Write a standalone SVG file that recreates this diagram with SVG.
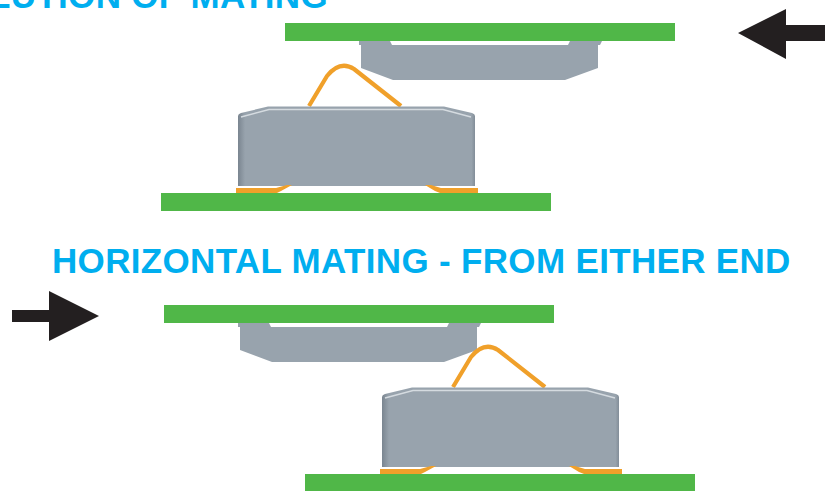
<svg xmlns="http://www.w3.org/2000/svg" width="828" height="491" viewBox="0 0 828 491">
<style>
.t{font-family:"Liberation Sans",Arial,sans-serif;font-weight:700;fill:#00aeef;font-size:35px;letter-spacing:.33px}
.g{fill:#50b748}
.b{fill:#98a3ad}
.s{fill:none;stroke:#f0a02a;stroke-width:4.200;stroke-linejoin:round}
.f{fill:#f0a02a}
.a{fill:#231f20}
</style>
<defs>
<linearGradient id="lg" x1="0" x2="1" y1="0" y2="0">
<stop offset="0" stop-color="#7a8590"/><stop offset="0.03" stop-color="#98a3ad"/><stop offset="0.985" stop-color="#98a3ad"/><stop offset="1" stop-color="#828d98"/>
</linearGradient>
<g id="upper">
<rect class="g" x="285" y="23" width="390" height="18"/>
<path class="b" d="M359 41H390L392 45H568L570 41H602L600 45H598V68L565 80H393L361 68V45H359Z"/>
</g>
<g id="lower">
<path class="s" d="M309 106L327 76Q340 60 354 69L401 106"/>
<path d="M238 186V116Q238 114 241 113L268 106.500H444L472 113Q475 114 475 116V186Z" fill="url(#lg)"/>
<path d="M241 117L269 109.500H443L471 117" fill="none" stroke="#d5dbe0" stroke-width="1.400"/>
<path class="f" d="M236 193V188H276L287 185H292L281 191L277 193ZM478 193V188H441L431 185H425L435 191L440 193Z"/>
<rect class="g" x="161" y="193" width="390" height="18"/>
</g>
</defs>
<text class="t" x="-11" y="8">LUTION OF MATING</text>
<text class="t" x="52" y="273">HORIZONTAL MATING - FROM EITHER END</text>
<g id="mating-1-upper"><use href="#upper"/></g>
<g id="mating-1-lower"><use href="#lower"/></g>
<g id="mating-2-upper"><use href="#upper" transform="translate(-121 282)"/></g>
<g id="mating-2-lower"><use href="#lower" transform="translate(144 281)"/></g>
<g id="connectors">
<path class="a" d="M738 33L786 9V25H825V41H786V59Z"/>
<path class="a" d="M12 310H49V291L99 316L49 341V322H12Z"/>
</g>
</svg>
